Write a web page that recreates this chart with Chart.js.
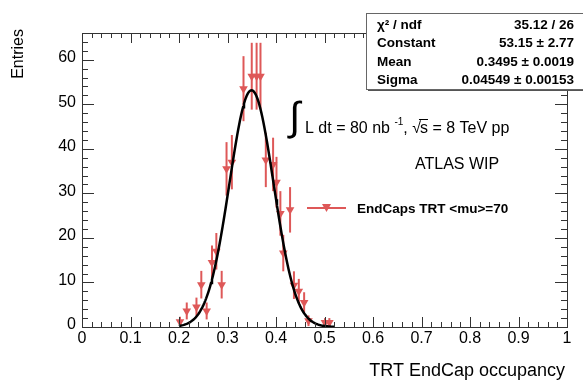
<!DOCTYPE html>
<html>
<head>
<meta charset="utf-8">
<title>TRT EndCap occupancy</title>
<script src="https://cdn.jsdelivr.net/npm/chart.js@4.4.1/dist/chart.umd.min.js"></script>
<style>
  html, body { margin: 0; padding: 0; background: #fff; }
  #wrap { width: 583px; height: 383px; }
</style>
</head>
<body>
<div id="wrap"><canvas id="occChart" width="583" height="383"></canvas></div>
<script>
// occupancy points, entries and their errors
const occupancy = [0.202, 0.216, 0.236, 0.246, 0.257, 0.268, 0.277, 0.288, 0.298, 0.309,
  0.333, 0.350, 0.360, 0.368, 0.379, 0.394, 0.401, 0.409, 0.415, 0.429,
  0.437, 0.447, 0.458, 0.467, 0.501, 0.510];
const entries = [1.2, 3.6, 4.5, 9.5, 3.6, 14.5, 17.0, 9.5, 35.5, 37.0,
  53.5, 56.3, 56.3, 56.3, 37.5, 36.5, 32.5, 25.5, 16.6, 26.3,
  9.4, 8.0, 5.5, 1.4, 1.0, 1.0];
const entryErrors = [1.1, 1.9, 2.1, 3.1, 1.9, 3.8, 4.1, 3.1, 6.0, 6.1,
  7.3, 7.5, 7.5, 7.5, 6.1, 6.0, 5.7, 5.0, 4.1, 5.1,
  3.1, 2.8, 2.3, 1.2, 1.0, 1.0];

// gaussian fit results (stat box)
const fitConstant = 53.15;
const fitMean = 0.3495;
const fitSigma = 0.04549;
const fitRange = [0.2, 0.52];
const statRows = [
  ["\u03C7\u00B2 / ndf", "35.12 / 26"],
  ["Constant", "53.15 \u00B1 2.77"],
  ["Mean", "0.3495 \u00B1 0.0019"],
  ["Sigma", "0.04549 \u00B1 0.00153"]
];

const xTickLabels = ["0", "0.1", "0.2", "0.3", "0.4", "0.5", "0.6", "0.7", "0.8", "0.9", "1"];
const yTickLabels = ["0", "10", "20", "30", "40", "50", "60"];

const RED = "rgb(222, 88, 88)";
const FONT = "'Liberation Sans', Arial, Helvetica, sans-serif";

document.addEventListener("DOMContentLoaded", () => {
  const points = occupancy.map((x, i) => ({ x: x, y: entries[i] }));

  // fit curve evaluated from the fitted parameters
  const fitPoints = [];
  for (let x = fitRange[0]; x <= fitRange[1] + 1e-9; x += 0.002) {
    const d = (x - fitMean) / fitSigma;
    fitPoints.push({ x: x, y: fitConstant * Math.exp(-0.5 * d * d) });
  }

  // vertical error bars under the markers
  const errorBars = {
    id: "errorBars",
    beforeDatasetsDraw(chart) {
      const { ctx, scales: { x, y } } = chart;
      ctx.save();
      ctx.strokeStyle = RED;
      ctx.lineWidth = 2;
      points.forEach((p, i) => {
        const px = x.getPixelForValue(p.x);
        ctx.beginPath();
        ctx.moveTo(px, y.getPixelForValue(Math.max(0, p.y - entryErrors[i])));
        ctx.lineTo(px, y.getPixelForValue(p.y + entryErrors[i]));
        ctx.stroke();
      });
      ctx.restore();
    }
  };

  // ROOT style frame, inner ticks, labels, stat box and texts
  const rootFrame = {
    id: "rootFrame",
    afterDraw(chart) {
      const { ctx, chartArea: a, scales: { x, y } } = chart;
      ctx.save();
      ctx.strokeStyle = "#333";
      ctx.lineWidth = 1;
      ctx.strokeRect(a.left + 0.5, a.top + 0.5, a.right - a.left, a.bottom - a.top);

      ctx.beginPath();
      for (let i = 0; i <= 50; i++) {
        const px = Math.round(x.getPixelForValue(i * 0.02)) + 0.5;
        const len = i % 5 === 0 ? 10 : 5;
        ctx.moveTo(px, a.bottom); ctx.lineTo(px, a.bottom - len);
        ctx.moveTo(px, a.top); ctx.lineTo(px, a.top + len);
      }
      for (let i = 0; i <= 33; i++) {
        const py = Math.round(y.getPixelForValue(i * 2)) + 0.5;
        const len = i % 5 === 0 ? 12 : 6;
        ctx.moveTo(a.left, py); ctx.lineTo(a.left + len, py);
        ctx.moveTo(a.right, py); ctx.lineTo(a.right - len, py);
      }
      ctx.stroke();

      // tick labels
      ctx.fillStyle = "#000";
      ctx.font = "16px " + FONT;
      ctx.textAlign = "center";
      ctx.textBaseline = "top";
      xTickLabels.forEach((t) => {
        ctx.fillText(t, x.getPixelForValue(parseFloat(t)), a.bottom + 4);
      });
      ctx.textAlign = "right";
      ctx.textBaseline = "middle";
      yTickLabels.forEach((t) => {
        ctx.fillText(t, a.left - 6, y.getPixelForValue(parseFloat(t)) - 2);
      });

      // axis titles
      ctx.font = "18px " + FONT;
      ctx.textAlign = "right";
      ctx.textBaseline = "alphabetic";
      ctx.fillText("TRT EndCap occupancy", a.right - 2, 376);
      ctx.font = "16px " + FONT;
      ctx.save();
      ctx.translate(23, a.top - 4);
      ctx.rotate(-Math.PI / 2);
      ctx.textAlign = "right";
      ctx.fillText("Entries", 0, 0);
      ctx.restore();

      // luminosity text
      ctx.textAlign = "left";
      ctx.font = "40px " + FONT;
      ctx.fillText("\u222B", 289, 130);
      ctx.font = "16px " + FONT;
      let tx = 305;
      const base = 133;
      const part1 = "L dt = 80 nb ";
      ctx.fillText(part1, tx, base);
      tx += ctx.measureText(part1).width;
      ctx.font = "10px " + FONT;
      ctx.fillText("-1", tx, base - 8);
      tx += ctx.measureText("-1").width;
      ctx.font = "16px " + FONT;
      ctx.fillText(", ", tx, base);
      tx += ctx.measureText(", ").width;
      ctx.fillText("\u221A", tx, base);
      tx += ctx.measureText("\u221A").width - 1;
      const sw = ctx.measureText("s").width;
      ctx.fillText("s", tx, base);
      ctx.beginPath();
      ctx.lineWidth = 1;
      ctx.strokeStyle = "#000";
      ctx.moveTo(tx - 1, base - 13.5);
      ctx.lineTo(tx + sw, base - 13.5);
      ctx.stroke();
      tx += sw;
      ctx.fillText(" = 8 TeV pp", tx, base);

      ctx.font = "16px " + FONT;
      ctx.fillText("ATLAS WIP", 415, 169);

      // legend
      ctx.strokeStyle = RED;
      ctx.lineWidth = 2;
      ctx.beginPath();
      ctx.moveTo(307, 208); ctx.lineTo(346, 208);
      ctx.stroke();
      ctx.fillStyle = RED;
      ctx.beginPath();
      ctx.moveTo(322, 204); ctx.lineTo(331, 204); ctx.lineTo(326.5, 212);
      ctx.closePath();
      ctx.fill();
      ctx.fillStyle = "#000";
      ctx.font = "bold 13.5px " + FONT;
      ctx.textBaseline = "middle";
      ctx.fillText("EndCaps TRT <mu>=70", 357, 209);

      // stat box with shadow
      const bx = 366, by = 13, bw = 230, bh = 76;
      ctx.fillStyle = "#555";
      ctx.fillRect(bx + 2, by + 2, bw, bh);
      ctx.fillStyle = "#fff";
      ctx.fillRect(bx, by, bw, bh);
      ctx.strokeStyle = "#666";
      ctx.lineWidth = 1;
      ctx.strokeRect(bx + 0.5, by + 0.5, bw, bh);
      ctx.fillStyle = "#000";
      ctx.font = "bold 13.5px " + FONT;
      statRows.forEach((row, i) => {
        const ry = 25 + i * 18.5;
        ctx.textAlign = "left";
        ctx.fillText(row[0], 377, ry);
        ctx.textAlign = "right";
        ctx.fillText(row[1], 574, ry);
      });
      ctx.restore();
    }
  };

  new Chart(document.getElementById("occChart"), {
    type: "scatter",
    data: {
      datasets: [
        {
          label: "Gaussian fit",
          data: fitPoints,
          showLine: true,
          borderColor: "#000",
          borderWidth: 2.5,
          pointRadius: 0,
          tension: 0
        },
        {
          label: "EndCaps TRT <mu>=70",
          data: points,
          pointStyle: "triangle",
          rotation: 180,
          radius: 5,
          backgroundColor: RED,
          borderColor: RED,
          borderWidth: 0
        }
      ]
    },
    options: {
      responsive: false,
      animation: false,
      layout: { padding: { left: 82, right: 16, top: 33, bottom: 56 } },
      scales: {
        x: { type: "linear", min: 0, max: 1, display: false },
        y: { type: "linear", min: 0, max: 66, display: false }
      },
      plugins: {
        legend: { display: false },
        tooltip: { enabled: false }
      }
    },
    plugins: [errorBars, rootFrame]
  });
});
</script>
</body>
</html>
